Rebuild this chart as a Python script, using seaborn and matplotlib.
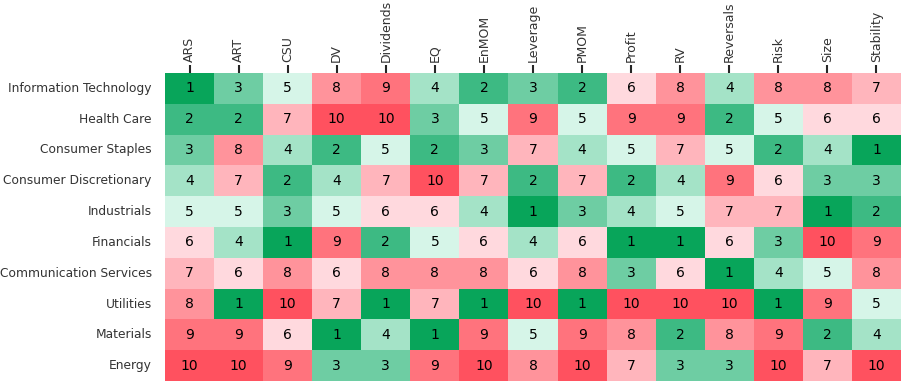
import numpy as np
import pandas as pd
import matplotlib
matplotlib.use("Agg")
import matplotlib.pyplot as plt
from matplotlib.colors import ListedColormap
import seaborn as sns

sectors = ["Information Technology", "Health Care", "Consumer Staples",
           "Consumer Discretionary", "Industrials", "Financials",
           "Communication Services", "Utilities", "Materials", "Energy"]
factors = ["ARS", "ART", "CSU", "DV", "Dividends", "EQ", "EnMOM", "Leverage",
           "PMOM", "Profit", "RV", "Reversals", "Risk", "Size", "Stability"]

it = [1, 3, 5, 8, 9, 4, 2, 3, 2, 6, 8, 4, 8, 8, 7]
health = [2, 2, 7, 10, 10, 3, 5, 9, 5, 9, 9, 2, 5, 6, 6]
staples = [3, 8, 4, 2, 5, 2, 3, 7, 4, 5, 7, 5, 2, 4, 1]
discretionary = [4, 7, 2, 4, 7, 10, 7, 2, 7, 2, 4, 9, 6, 3, 3]
industrials = [5, 5, 3, 5, 6, 6, 4, 1, 3, 4, 5, 7, 7, 1, 2]
financials = [6, 4, 1, 9, 2, 5, 6, 4, 6, 1, 1, 6, 3, 10, 9]
communication = [7, 6, 8, 6, 8, 8, 8, 6, 8, 3, 6, 1, 4, 5, 8]
utilities = [8, 1, 10, 7, 1, 7, 1, 10, 1, 10, 10, 10, 1, 9, 5]
materials = [9, 9, 6, 1, 4, 1, 9, 5, 9, 8, 2, 8, 9, 2, 4]
energy = [10, 10, 9, 3, 3, 9, 10, 8, 10, 7, 3, 3, 10, 7, 10]

ranks = pd.DataFrame([it, health, staples, discretionary, industrials, financials,
                      communication, utilities, materials, energy],
                     index=sectors, columns=factors)

# one colour per rank, green (best) to red (worst)
palette = ["#08a55a", "#3dba83", "#6ecda3", "#a4e3c7", "#d6f5e8",
           "#ffd9de", "#ffb5bc", "#ff939b", "#ff737d", "#ff515f"]
cmap = ListedColormap(palette)

sns.set_style("white")
fig = plt.figure(figsize=(9.07, 3.87), dpi=100)
ax = fig.add_axes([165 / 907, 6 / 387, 736 / 907, 308 / 387])

sns.heatmap(ranks, cmap=cmap, vmin=0.5, vmax=10.5, annot=True, fmt="d",
            annot_kws={"color": "black", "fontsize": 10},
            cbar=False, ax=ax)

ax.xaxis.tick_top()
ax.tick_params(axis="x", top=True, bottom=False, length=6, width=1.5,
               color="#262626", labelsize=9, labelcolor="#333333",
               rotation=90, pad=2)
ax.tick_params(axis="y", left=False, length=0, labelsize=8.8,
               labelcolor="#333333", rotation=0, pad=9.5)
ax.set_xlabel("")
ax.set_ylabel("")

fig.savefig("out.png", dpi=100)
